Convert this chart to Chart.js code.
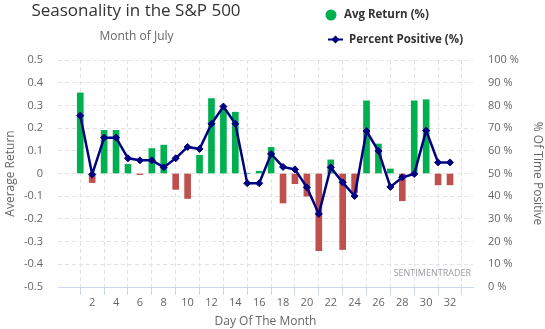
<!DOCTYPE html>
<html>
<head>
<meta charset="utf-8">
<script src="https://cdn.jsdelivr.net/npm/chart.js@4/dist/chart.umd.min.js"></script>
<style>
  html, body { margin: 0; padding: 0; background: #fff; }
  #wrap { width: 545px; height: 329px; position: relative; }
</style>
</head>
<body>
<div id="wrap"><canvas id="chart"></canvas></div>
<script>
const days = [1, 2, 3, 4, 5, 6, 7, 8, 9, 10, 11, 12, 13, 14, 15, 16, 17, 18, 19, 20, 21, 22, 23, 24, 25, 26, 27, 28, 29, 30, 31, 32]
const avgReturn = [0.355, -0.04, 0.19, 0.19, 0.04, -0.005, 0.11, 0.125, -0.07, -0.11, 0.08, 0.33, 0.28, 0.27, 0, 0.01, 0.115, -0.13, -0.045, -0.10, -0.34, 0.06, -0.335, -0.085, 0.32, 0.13, 0.02, -0.12, 0.32, 0.325, -0.05, -0.05]
const percentPositive = [75.5, 49.6, 65.8, 65.8, 56.7, 55.8, 55.8, 52.7, 56.7, 61.7, 60.8, 71.9, 79.5, 71.9, 45.7, 45.7, 58.6, 52.9, 51.8, 43.9, 32.2, 52.7, 46.1, 40.1, 68.7, 59.9, 44.1, 48.3, 49.8, 68.9, 54.9, 54.9]
const dayTicks = [2, 4, 6, 8, 10, 12, 14, 16, 18, 20, 22, 24, 26, 28, 30, 32]

const green = "#00b050"
const red = "#c0504d"
const navy = "#000080"
const gridColor = "#e3e3e3"
const axisColor = "#ccd6eb"
const labelColor = "#666666"
const fontFamily = "'Open Sans', sans-serif"

// title, subtitle, legend and watermark drawn straight on the canvas
const decorations = {
  id: "decorations",
  afterDraw(chart) {
    const ctx = chart.ctx
    ctx.save()
    ctx.textBaseline = "alphabetic"
    ctx.textAlign = "center"
    ctx.fillStyle = "#333333"
    ctx.font = `17px ${fontFamily}`
    ctx.fillText("Seasonality in the S&P 500", 136, 16)
    ctx.fillStyle = labelColor
    ctx.font = `12px ${fontFamily}`
    ctx.fillText("Month of July", 136.5, 40)

    // legend
    ctx.fillStyle = green
    ctx.beginPath()
    ctx.arc(331, 15, 5.5, 0, Math.PI * 2)
    ctx.fill()

    ctx.strokeStyle = navy
    ctx.lineWidth = 2
    ctx.beginPath()
    ctx.moveTo(328, 39.5)
    ctx.lineTo(343, 39.5)
    ctx.stroke()
    ctx.fillStyle = navy
    ctx.beginPath()
    ctx.moveTo(335.5, 35.5)
    ctx.lineTo(339.5, 39.5)
    ctx.lineTo(335.5, 43.5)
    ctx.lineTo(331.5, 39.5)
    ctx.closePath()
    ctx.fill()

    ctx.textAlign = "left"
    ctx.textBaseline = "middle"
    ctx.fillStyle = "#333333"
    ctx.font = `bold 11.5px ${fontFamily}`
    ctx.fillText("Avg Return (%)", 344, 15)
    ctx.fillText("Percent Positive (%)", 349, 39.5)

    // watermark
    ctx.textAlign = "right"
    ctx.fillStyle = "#9a9aa6"
    ctx.font = `9px ${fontFamily}`
    ctx.fillText("SENTIMENTRADER", 471, 273)
    ctx.restore()
  },
}

const canvas = document.getElementById("chart")

new Chart(canvas, {
  data: {
    datasets: [
      {
        type: "line",
        label: "Percent Positive (%)",
        data: days.map((d, i) => ({ x: d, y: percentPositive[i] })),
        yAxisID: "y1",
        order: 0,
        borderColor: navy,
        borderWidth: 2.5,
        tension: 0,
        pointStyle: "rectRot",
        pointRadius: 3.5,
        pointBorderWidth: 1,
        pointBackgroundColor: navy,
        pointBorderColor: navy,
      },
      {
        type: "bar",
        label: "Avg Return (%)",
        data: days.map((d, i) => ({ x: d, y: avgReturn[i] })),
        yAxisID: "y",
        order: 1,
        barThickness: 6,
        backgroundColor: c => (c.raw && c.raw.y < 0 ? red : green),
      },
    ],
  },
  options: {
    responsive: true,
    maintainAspectRatio: false,
    animation: false,
    layout: { padding: { top: 60, left: 0, right: 0, bottom: 0 } },
    plugins: {
      legend: { display: false },
      tooltip: { enabled: false },
    },
    scales: {
      x: {
        type: "linear",
        min: 0.22,
        max: 32.84,
        afterBuildTicks: scale => {
          scale.ticks = dayTicks.map(v => ({ value: v }))
        },
        afterFit: scale => { scale.height = 42 },
        border: { display: true, color: axisColor, width: 1, dash: [4, 3] },
        grid: { color: gridColor, drawTicks: true, tickLength: 8, tickColor: axisColor, tickBorderDash: [] },
        ticks: { color: labelColor, font: { family: fontFamily, size: 11 }, padding: 1, maxRotation: 0, autoSkip: false },
        title: { display: true, text: "Day Of The Month", color: labelColor, font: { family: fontFamily, size: 12 }, padding: { top: 0, bottom: 0 } },
      },
      y: {
        position: "left",
        min: -0.5,
        max: 0.5,
        afterFit: scale => { scale.width = 58 },
        border: { display: false, dash: [4, 3] },
        grid: {
          color: c => (c.tick && c.tick.value <= -0.5 ? "rgba(0,0,0,0)" : gridColor),
          drawTicks: false,
        },
        ticks: {
          stepSize: 0.1,
          color: labelColor,
          font: { family: fontFamily, size: 11 },
          padding: 15,
          callback: v => String(+v.toFixed(1)),
        },
        title: { display: true, text: "Average Return", color: labelColor, font: { family: fontFamily, size: 12 }, padding: { top: 3, bottom: 0 } },
      },
      y1: {
        position: "right",
        min: 0,
        max: 100,
        afterFit: scale => { scale.width = 72 },
        border: { display: false },
        grid: { display: false, drawTicks: false },
        ticks: {
          stepSize: 10,
          color: labelColor,
          font: { family: fontFamily, size: 11 },
          padding: 15,
          callback: v => `${v} %`,
        },
        title: { display: true, text: "% Of Time Positive", color: labelColor, font: { family: fontFamily, size: 12 }, padding: { top: 0, bottom: 5 } },
      },
    },
  },
  plugins: [decorations],
})
</script>
</body>
</html>
